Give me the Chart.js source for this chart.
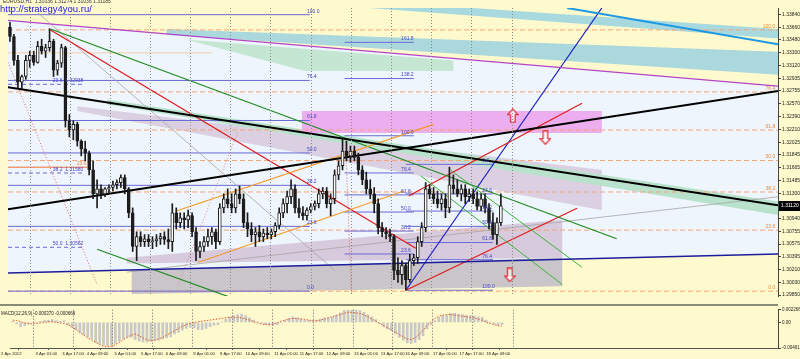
<!DOCTYPE html>
<html>
<head>
<meta charset="utf-8">
<script src="https://cdn.jsdelivr.net/npm/chart.js@4.4.1/dist/chart.umd.min.js"></script>
<style>
  html, body { margin: 0; padding: 0; background: #fffacd; }
  #wrap { position: relative; width: 800px; height: 359px; overflow: hidden; background: #fffacd; }
  #mainChart { position: absolute; left: 0; top: 0; }
  #sep { position: absolute; left: 0; top: 304px; width: 778px; height: 2px; background: #8a8a78; }
  #macdChart { position: absolute; left: 0; top: 306px; }
</style>
</head>
<body>
<div id="wrap">
  <canvas id="mainChart" width="800" height="304"></canvas>
  <div id="sep"></div>
  <canvas id="macdChart" width="800" height="53"></canvas>
</div>
<script>
// EURUSD candles, one per slot
const opens = [
  1.3366, 1.3353, 1.3319, 1.3288, 1.3296, 1.3319, 1.3326, 1.3316, 1.3339, 1.3332,
  1.3337, 1.3346, 1.3305, 1.3315, 1.3337, 1.3233, 1.3220, 1.3228, 1.3204, 1.3193,
  1.3187, 1.3163, 1.3129, 1.3136, 1.3129, 1.3136, 1.3138, 1.3142, 1.3145, 1.3152,
  1.3136, 1.3102, 1.3054, 1.3068, 1.3061, 1.3065, 1.3061, 1.3062, 1.3065, 1.3068,
  1.3064, 1.3061, 1.3102, 1.3088, 1.3095, 1.3092, 1.3098, 1.3075, 1.3047, 1.3054,
  1.3061, 1.3068, 1.3075, 1.3061, 1.3109, 1.3122, 1.3115, 1.3109, 1.3129, 1.3122,
  1.3088, 1.3079, 1.3071, 1.3075, 1.3068, 1.3073, 1.3071, 1.3075, 1.3084, 1.3102,
  1.3115, 1.3125, 1.3136, 1.3109, 1.3102, 1.3098, 1.3106, 1.3111, 1.3115, 1.3129,
  1.3133, 1.3115, 1.3122, 1.3156, 1.3169, 1.3190, 1.3183, 1.3190, 1.3181, 1.3163,
  1.3149, 1.3136, 1.3129, 1.3115, 1.3081, 1.3075, 1.3072, 1.3068, 1.3020, 1.3014,
  1.3027, 1.3007, 1.3034, 1.3038, 1.3061, 1.3081, 1.3136, 1.3129, 1.3122, 1.3115,
  1.3122, 1.3109, 1.3142, 1.3136, 1.3129, 1.3136, 1.3125, 1.3129, 1.3122, 1.3111,
  1.3122, 1.3109, 1.3088, 1.3071, 1.3088
];
const highs = [
  1.3373, 1.3356, 1.3326, 1.3298, 1.3326, 1.3332, 1.3332, 1.3346, 1.3349, 1.3342,
  1.3364, 1.3349, 1.3319, 1.3342, 1.3339, 1.3242, 1.3233, 1.3231, 1.3206, 1.3204,
  1.3190, 1.3176, 1.3149, 1.3142, 1.3138, 1.3142, 1.3147, 1.3149, 1.3156, 1.3156,
  1.3138, 1.3109, 1.3075, 1.3075, 1.3071, 1.3071, 1.3068, 1.3071, 1.3073, 1.3075,
  1.3079, 1.3115, 1.3109, 1.3102, 1.3102, 1.3106, 1.3102, 1.3081, 1.3061, 1.3068,
  1.3079, 1.3081, 1.3079, 1.3115, 1.3129, 1.3136, 1.3129, 1.3136, 1.3140, 1.3129,
  1.3102, 1.3088, 1.3081, 1.3084, 1.3079, 1.3081, 1.3079, 1.3088, 1.3109, 1.3122,
  1.3133, 1.3149, 1.3142, 1.3122, 1.3111, 1.3109, 1.3115, 1.3119, 1.3136, 1.3138,
  1.3138, 1.3129, 1.3163, 1.3176, 1.3208, 1.3204, 1.3197, 1.3197, 1.3187, 1.3169,
  1.3160, 1.3149, 1.3138, 1.3122, 1.3088, 1.3081, 1.3079, 1.3071, 1.3038, 1.3034,
  1.3030, 1.3043, 1.3043, 1.3068, 1.3088, 1.3145, 1.3142, 1.3138, 1.3133, 1.3129,
  1.3129, 1.3167, 1.3156, 1.3149, 1.3142, 1.3142, 1.3136, 1.3136, 1.3132, 1.3129,
  1.3129, 1.3115, 1.3102, 1.3095, 1.3129
];
const lows = [
  1.3346, 1.3312, 1.3280, 1.3278, 1.3292, 1.3309, 1.3312, 1.3315, 1.3328, 1.3323,
  1.3332, 1.3296, 1.3298, 1.3309, 1.3224, 1.3210, 1.3206, 1.3197, 1.3183, 1.3176,
  1.3156, 1.3122, 1.3109, 1.3122, 1.3125, 1.3129, 1.3133, 1.3136, 1.3138, 1.3129,
  1.3095, 1.3047, 1.3034, 1.3054, 1.3054, 1.3054, 1.3051, 1.3054, 1.3057, 1.3057,
  1.3051, 1.3047, 1.3079, 1.3081, 1.3079, 1.3081, 1.3068, 1.3034, 1.3038, 1.3047,
  1.3054, 1.3057, 1.3051, 1.3057, 1.3102, 1.3109, 1.3102, 1.3102, 1.3115, 1.3081,
  1.3068, 1.3061, 1.3054, 1.3061, 1.3061, 1.3065, 1.3065, 1.3068, 1.3079, 1.3095,
  1.3102, 1.3115, 1.3102, 1.3095, 1.3092, 1.3092, 1.3102, 1.3106, 1.3109, 1.3122,
  1.3109, 1.3098, 1.3115, 1.3149, 1.3163, 1.3176, 1.3174, 1.3176, 1.3156, 1.3142,
  1.3129, 1.3122, 1.3102, 1.3072, 1.3068, 1.3065, 1.3061, 1.3007, 1.3003, 1.3000,
  1.2992, 1.3003, 1.3027, 1.3030, 1.3054, 1.3075, 1.3122, 1.3115, 1.3109, 1.3106,
  1.3095, 1.3102, 1.3129, 1.3125, 1.3119, 1.3115, 1.3118, 1.3115, 1.3106, 1.3105,
  1.3102, 1.3079, 1.3064, 1.3057, 1.3084
];
const closes = [
  1.3353, 1.3319, 1.3288, 1.3296, 1.3319, 1.3326, 1.3316, 1.3339, 1.3332, 1.3337,
  1.3346, 1.3305, 1.3315, 1.3337, 1.3233, 1.3220, 1.3228, 1.3204, 1.3193, 1.3187,
  1.3163, 1.3129, 1.3136, 1.3129, 1.3136, 1.3138, 1.3142, 1.3145, 1.3152, 1.3136,
  1.3102, 1.3054, 1.3068, 1.3061, 1.3065, 1.3061, 1.3062, 1.3065, 1.3068, 1.3064,
  1.3061, 1.3102, 1.3088, 1.3095, 1.3092, 1.3098, 1.3075, 1.3047, 1.3054, 1.3061,
  1.3068, 1.3075, 1.3061, 1.3109, 1.3122, 1.3115, 1.3109, 1.3129, 1.3122, 1.3088,
  1.3079, 1.3071, 1.3075, 1.3068, 1.3073, 1.3071, 1.3075, 1.3084, 1.3102, 1.3115,
  1.3125, 1.3136, 1.3109, 1.3102, 1.3098, 1.3106, 1.3111, 1.3115, 1.3129, 1.3133,
  1.3115, 1.3122, 1.3156, 1.3169, 1.3190, 1.3183, 1.3190, 1.3181, 1.3163, 1.3149,
  1.3136, 1.3129, 1.3115, 1.3081, 1.3075, 1.3072, 1.3068, 1.3020, 1.3014, 1.3027,
  1.3007, 1.3034, 1.3038, 1.3061, 1.3081, 1.3136, 1.3129, 1.3122, 1.3115, 1.3122,
  1.3109, 1.3142, 1.3136, 1.3129, 1.3136, 1.3125, 1.3129, 1.3122, 1.3111, 1.3122,
  1.3109, 1.3088, 1.3071, 1.3088, 1.3112
];

// MACD(12,26,9): main (histogram) and signal (dotted)
const macdMain = [
  0.0002, -0.0003, -0.0008, -0.0006, -0.0003, -0.0001, 0.0000, 0.0002, 0.0003, 0.0004,
  0.0005, 0.0003, 0.0002, 0.0003, -0.0004, -0.0009, -0.0013, -0.0018, -0.0022, -0.0026,
  -0.0030, -0.0036, -0.0039, -0.0041, -0.0042, -0.0041, -0.0038, -0.0034, -0.0030, -0.0027,
  -0.0027, -0.0031, -0.0034, -0.0035, -0.0035, -0.0034, -0.0033, -0.0032, -0.0030, -0.0028,
  -0.0026, -0.0021, -0.0018, -0.0014, -0.0011, -0.0009, -0.0010, -0.0013, -0.0013, -0.0011,
  -0.0008, -0.0005, -0.0004, 0.0001, 0.0006, 0.0010, 0.0012, 0.0014, 0.0015, 0.0012,
  0.0008, 0.0004, 0.0001, -0.0002, -0.0004, -0.0005, -0.0005, -0.0004, -0.0001, 0.0003,
  0.0007, 0.0010, 0.0008, 0.0006, 0.0004, 0.0003, 0.0003, 0.0004, 0.0006, 0.0008,
  0.0008, 0.0009, 0.0013, 0.0017, 0.0021, 0.0023, 0.0024, 0.0023, 0.0021, 0.0018,
  0.0014, 0.0010, 0.0005, -0.0002, -0.0008, -0.0012, -0.0015, -0.0021, -0.0027, -0.0032,
  -0.0037, -0.0038, -0.0036, -0.0031, -0.0024, -0.0012, -0.0004, 0.0003, 0.0009, 0.0012,
  0.0013, 0.0016, 0.0016, 0.0015, 0.0014, 0.0013, 0.0012, 0.0011, 0.0010, 0.0009,
  0.0004, 0.0001, -0.0003, -0.0005, -0.0004
];
const macdSignal = [
  0.0004, 0.0003, 0.0001, -0.0001, -0.0002, -0.0003, -0.0002, -0.0001, 0.0000, 0.0001,
  0.0001, 0.0000, -0.0001, -0.0002, -0.0004, -0.0008, -0.0013, -0.0018, -0.0023, -0.0028,
  -0.0032, -0.0036, -0.0040, -0.0043, -0.0044, -0.0043, -0.0040, -0.0036, -0.0031, -0.0027,
  -0.0023, -0.0021, -0.0024, -0.0028, -0.0031, -0.0033, -0.0032, -0.0030, -0.0027, -0.0023,
  -0.0019, -0.0015, -0.0011, -0.0007, -0.0004, -0.0002, 0.0000, 0.0001, 0.0002, 0.0003,
  0.0004, 0.0005, 0.0006, 0.0007, 0.0008, 0.0009, 0.0009, 0.0009, 0.0008, 0.0006,
  0.0004, 0.0001, -0.0001, -0.0003, -0.0004, -0.0004, -0.0003, -0.0001, 0.0002, 0.0004,
  0.0006, 0.0007, 0.0007, 0.0006, 0.0005, 0.0004, 0.0003, 0.0003, 0.0004, 0.0006,
  0.0008, 0.0010, 0.0012, 0.0014, 0.0016, 0.0018, 0.0018, 0.0017, 0.0016, 0.0013,
  0.0010, 0.0006, 0.0002, -0.0002, -0.0006, -0.0010, -0.0014, -0.0018, -0.0022, -0.0026,
  -0.0030, -0.0031, -0.0028, -0.0022, -0.0014, -0.0006, 0.0001, 0.0007, 0.0011, 0.0013,
  0.0014, 0.0014, 0.0013, 0.0012, 0.0011, 0.0010, 0.0009, 0.0008, 0.0006, 0.0004,
  0.0000, -0.0002, -0.0004, -0.0006, -0.0007
];

// axes
const priceTicks = [1.33840, 1.33660, 1.33480, 1.33300, 1.33120, 1.32935, 1.32755, 1.32570,
  1.32390, 1.32210, 1.32025, 1.31845, 1.31665, 1.31485, 1.31300, 1.31120, 1.30940, 1.30755,
  1.30575, 1.30395, 1.30210, 1.30030, 1.29850];
const macdTicks = [0.002266, 0, -0.00461];
const macdTickLabels = ['0.002266', '0.00', '-0.00461'];
const timeTickPos = [-3, 5.75, 12.5, 18.75, 25.75, 32.5, 38.75, 45.75, 52.5, 59, 66.25,
  72.75, 79.5, 86.5, 93.25, 99.5, 106.5, 113.25, 120];
const timeTickLabels = ['2 Apr 2012', '3 Apr 01:00', '3 Apr 17:00', '4 Apr 09:00', '5 Apr 01:00',
  '5 Apr 17:00', '6 Apr 09:00', '9 Apr 01:00', '9 Apr 17:00', '10 Apr 09:00', '11 Apr 01:00',
  '11 Apr 17:00', '12 Apr 09:00', '13 Apr 01:00', '13 Apr 17:00', '16 Apr 09:00', '17 Apr 01:00',
  '17 Apr 17:00', '18 Apr 09:00'];
const dayGrid = [5, 15.25, 25.25, 35.25, 45.5, 55.5, 65.75, 76, 86.25, 96.25, 106.25, 116.5, 126.75];

// fibonacci levels
const fibPct = ['100.0', '76.4', '61.8', '50.0', '38.2', '23.6', '0.0'];
const fibMain = [1.33623, 1.32741, 1.32198, 1.31764, 1.31316, 1.30773, 1.29905];
const fibLeft = [1.33840, 1.32904, 1.32334, 1.31872, 1.31411, 1.30827, 1.29905];
const fibMidNames = ['161.8', '138.2', '100.0', '76.4', '61.8', '50.0', '38.2', '23.6'];
const fibMid = [1.33446, 1.32931, 1.32117, 1.31587, 1.31275, 1.31031, 1.30760, 1.30434];
const fibRightNames = ['0.0', '23.6', '38.2', '50.0', '61.8', '76.4', '100.0'];
const fibRight = [1.31710, 1.31289, 1.31045, 1.30827, 1.30597, 1.30353, 1.29918];
const noteLevels = [1.32849, 1.31587, 1.30529];
const noteTexts = ['23.6  1.32938', '38.2  1.31580', '50.0  1.30562'];
const salmonLevel = 1.31669;

// drawn objects, [slot, price]
const blackDown = [[-0.5, 1.32809], [194, 1.31126]];
const blackUp = [[-0.5, 1.31072], [194, 1.32754]];
const magentaLine = [[-0.5, 1.33759], [194, 1.32822]];
const cyanLine = [[140.75, 1.33935], [194, 1.33419]];
const navyLine = [[-0.5, 1.30163], [194, 1.30434]];
const blueSteep = [[100, 1.29918], [149.5, 1.33935]];
const redDown = [[10.25, 1.33623], [102.5, 1.30515]];
const redUpA = [[100.75, 1.31262], [144.5, 1.32578]];
const redUpB = [[100, 1.29918], [143.25, 1.31085]];
const greenLong = [[10.25, 1.33636], [153.25, 1.30651]];
const greenShort = [[22, 1.30502], [56.5, 1.29800]];
const greenA = [[103.75, 1.31547], [139.5, 1.30000]];
const greenB = [[111.25, 1.31629], [144.5, 1.30244]];
const orangeUp = [[42, 1.31045], [107, 1.32279]];
const orangeLow = [[47.5, 1.30312], [99.5, 1.31330]];
const grayDesc = [[7, 1.33867], [82, 1.30203]];
const grayAsc = [[29.5, 1.30176], [194, 1.31248]];
const redDotA = [[-0.5, 1.33162], [22, 1.29999]];
const redDotB = [[42.5, 1.29999], [57.5, 1.32171]];
const redDotC = [[84.75, 1.32035], [86.25, 1.29864]];
const paleLine = [[-0.5, 1.33297], [51, 1.33297]];

const channelZone = [[-0.5, 1.33759], [194, 1.32822], [194, 1.30434], [-0.5, 1.30163]];
const tealZoneA = [[90.75, 1.33935], [117, 1.33935], [194, 1.33636], [194, 1.33501]];
const tealZoneB = [[39.5, 1.33636], [194, 1.33311], [194, 1.32985], [39.5, 1.33555]];
const mintZoneTop = [[44.5, 1.33487], [112, 1.33189], [112, 1.33039], [74.5, 1.33039]];
const mintZoneBand = [[24.5, 1.32632], [194, 1.31180], [194, 1.30990], [24.5, 1.32564]];
const lavenderZoneA = [[17, 1.32537], [149.5, 1.31628], [149.5, 1.31058], [17, 1.32469]];
const lavenderZoneB = [[29.5, 1.30380], [139.5, 1.30922], [139.5, 1.30380], [29.5, 1.30298]];
const grayZone = [[30.75, 1.30203], [139.5, 1.30380], [139.5, 1.29973], [30.75, 1.29864]];
const pinkZone = [[73.75, 1.32469], [149.5, 1.32469], [149.5, 1.32157], [73.75, 1.32157]];

const arrowsUp = [[127, 1.32402]];
const arrowsDown = [[135.25, 1.32090], [126.25, 1.30135]];

const FONT = '"Liberation Sans", Arial, sans-serif';

const pts = arr => arr.map(p => ({ x: p[0], y: p[1] }));

function trend(arr, color, width, dash, order) {
  return {
    type: 'line', data: pts(arr), borderColor: color, borderWidth: width,
    borderDash: dash || [], pointRadius: 0, fill: false, tension: 0, order: order || 10
  };
}

function zone(arr, color, order) {
  return {
    type: 'line', data: pts(arr), borderWidth: 0, borderColor: 'rgba(0,0,0,0)',
    backgroundColor: color, fill: 'shape', pointRadius: 0, order: order
  };
}

function levels(vals, x0, x1, color, dash, order) {
  return vals.map(v => trend([[x0, v], [x1, v]], color, 1, dash, order));
}

function arrowIcon(up) {
  const c = document.createElement('canvas');
  c.width = 12; c.height = 15;
  const g = c.getContext('2d');
  if (!up) { g.translate(0, 15); g.scale(1, -1); }
  g.beginPath();
  g.moveTo(6, 0.8); g.lineTo(11.2, 6.5); g.lineTo(8.3, 6.5); g.lineTo(8.3, 14.2);
  g.lineTo(3.7, 14.2); g.lineTo(3.7, 6.5); g.lineTo(0.8, 6.5); g.closePath();
  g.fillStyle = 'rgba(255,255,255,0.75)'; g.fill();
  g.strokeStyle = '#e3262b'; g.lineWidth = 1.2; g.stroke();
  return c;
}

const mainDecor = {
  id: 'mainDecor',
  afterDatasetsDraw(chart) {
    const { ctx, chartArea: a, scales: { x, y } } = chart;
    ctx.save();
    ctx.beginPath();
    ctx.rect(a.left, a.top, a.right - a.left, a.bottom - a.top);
    ctx.clip();
    ctx.strokeStyle = '#8a8a8a';
    ctx.lineWidth = 1;
    ctx.setLineDash([1, 2]);
    dayGrid.forEach(d => {
      const px = Math.round(x.getPixelForValue(d)) + 0.5;
      ctx.beginPath(); ctx.moveTo(px, a.top); ctx.lineTo(px, a.bottom); ctx.stroke();
    });
    ctx.setLineDash([]);

    ctx.font = '5px ' + FONT;
    ctx.textBaseline = 'bottom';
    ctx.fillStyle = '#f0883a';
    ctx.textAlign = 'right';
    fibMain.forEach((v, i) => ctx.fillText(fibPct[i], x.getPixelForValue(193.3), y.getPixelForValue(v) - 1));
    ctx.fillText('23.6', x.getPixelForValue(19.3), y.getPixelForValue(salmonLevel) - 1);

    ctx.fillStyle = '#4444c4';
    ctx.textAlign = 'left';
    fibLeft.forEach((v, i) => ctx.fillText(fibPct[i], x.getPixelForValue(75), y.getPixelForValue(v) - 1));
    fibMid.forEach((v, i) => ctx.fillText(fibMidNames[i], x.getPixelForValue(98.8), y.getPixelForValue(v) - 1));
    fibRight.forEach((v, i) => ctx.fillText(fibRightNames[i], x.getPixelForValue(119.3), y.getPixelForValue(v) - 1));
    noteLevels.forEach((v, i) => ctx.fillText(noteTexts[i], x.getPixelForValue(10.8), y.getPixelForValue(v) - 1));
    ctx.restore();
  },
  afterDraw(chart) {
    const { ctx, chartArea: a, scales: { y } } = chart;
    ctx.save();
    ctx.font = '5px ' + FONT;
    ctx.fillStyle = '#333';
    ctx.textBaseline = 'alphabetic';
    ctx.textAlign = 'left';
    ctx.fillText('EURUSD,H1  1.31036 1.31274 1.31036 1.31185', 3, 2.5);
    ctx.font = '9.5px ' + FONT;
    ctx.fillStyle = '#1818e0';
    ctx.fillText('http://strategy4you.ru/', 0, 12);
    const last = closes[closes.length - 1];
    const py = Math.round(y.getPixelForValue(last));
    ctx.fillStyle = '#000';
    ctx.fillRect(a.right + 1, py - 5, 21, 10);
    ctx.font = '5px ' + FONT;
    ctx.fillStyle = '#fff';
    ctx.textBaseline = 'middle';
    ctx.fillText(last.toFixed(5), a.right + 3, py);
    ctx.restore();
  }
};

const macdDecor = {
  id: 'macdDecor',
  afterDatasetsDraw(chart) {
    const { ctx, chartArea: a, scales: { x } } = chart;
    ctx.save();
    ctx.strokeStyle = '#6a6a6a';
    ctx.lineWidth = 1;
    ctx.setLineDash([1, 2]);
    dayGrid.forEach(d => {
      const px = Math.round(x.getPixelForValue(d)) + 0.5;
      ctx.beginPath(); ctx.moveTo(px, a.top); ctx.lineTo(px, a.bottom); ctx.stroke();
    });
    ctx.setLineDash([]);
    ctx.font = '4.5px ' + FONT;
    ctx.fillStyle = '#222';
    ctx.textBaseline = 'top';
    ctx.textAlign = 'left';
    ctx.fillText('MACD(12,26,9) -0.000370 -0.000666', 1, a.top + 2);
    ctx.restore();
  }
};

const mainSets = [
  zone(channelZone, '#eef5fc', 40),
  zone(tealZoneA, '#a8d9df', 37),
  zone(tealZoneB, '#abd8dd', 36),
  zone(mintZoneTop, '#c6e6d4', 35),
  zone(lavenderZoneA, '#dad0e2', 34),
  zone(mintZoneBand, '#b9e2cd', 33),
  zone(lavenderZoneB, '#d7cadd', 32),
  zone(grayZone, '#c9c5c9', 31),
  zone(pinkZone, '#ecaeee', 30),
  ...levels(fibMain, -0.5, 194, '#f3a57a', [5, 3], 14),
  ...levels(fibLeft, -0.5, 75.75, '#6a6ad6', [], 13),
  ...levels(fibMid, 84.5, 102, '#6a6ad6', [], 13),
  ...levels(fibRight, 100, 122, '#6a6ad6', [], 13),
  ...levels(noteLevels, -0.5, 18.25, '#6a6ad6', [4, 3], 13),
  trend([[-0.5, salmonLevel], [19.5, salmonLevel]], '#f29a74', 1.5, [], 13),
  trend(paleLine, '#f5cfa6', 1, [], 13),
  trend(grayDesc, '#a4a4a4', 0.8, [], 12),
  trend(grayAsc, '#a4a4a4', 0.8, [], 12),
  trend(redDotA, '#e36a6a', 1, [1, 2], 12),
  trend(redDotB, '#e88a8a', 1, [1, 2], 12),
  trend(redDotC, '#e36a6a', 1, [1, 2], 12),
  trend(magentaLine, '#b444c8', 1.3),
  trend(cyanLine, '#1d98e2', 2),
  trend(navyLine, '#1c1c9c', 1.5),
  trend(orangeUp, '#f59a2a', 1.2),
  trend(orangeLow, '#f59a2a', 1.2),
  trend(greenLong, '#1f8a1f', 1.2),
  trend(greenShort, '#1f8a1f', 1.2),
  trend(greenA, '#3cb43c', 1),
  trend(greenB, '#3cb43c', 1),
  trend(redDown, '#e01a1a', 1.2),
  trend(redUpA, '#e01a1a', 1.2),
  trend(redUpB, '#e01a1a', 1.2),
  trend(blueSteep, '#1e1ec4', 1.2),
  trend(blackDown, '#000000', 2, [], 9),
  trend(blackUp, '#000000', 2, [], 9),
  {
    type: 'bar', grouped: false, order: 2, barThickness: 1,
    data: lows.map((l, i) => ({ x: i, y: [l, highs[i]] })),
    backgroundColor: '#1c1c1c'
  },
  {
    type: 'bar', grouped: false, order: 1, barThickness: 3, borderWidth: 1, borderSkipped: false,
    data: opens.map((o, i) => ({ x: i, y: [o, closes[i]] })),
    backgroundColor: opens.map((o, i) => closes[i] >= o ? '#ffffff' : '#1c1c1c'),
    borderColor: '#1c1c1c'
  },
  {
    type: 'line', showLine: false, order: 0, pointRadius: 7,
    data: pts(arrowsUp), pointStyle: arrowIcon(true)
  },
  {
    type: 'line', showLine: false, order: 0, pointRadius: 7,
    data: pts(arrowsDown), pointStyle: arrowIcon(false)
  }
];

new Chart(document.getElementById('mainChart'), {
  type: 'bar',
  data: { datasets: mainSets },
  options: {
    responsive: false,
    animation: false,
    devicePixelRatio: 1,
    layout: { padding: { top: 0, right: 0, bottom: 2, left: 0 } },
    plugins: { legend: { display: false }, tooltip: { enabled: false } },
    scales: {
      x: { type: 'linear', min: -0.5, max: 194, offset: false, display: false },
      y: {
        position: 'right',
        min: 1.29836,
        max: 1.33935,
        beginAtZero: false,
        afterBuildTicks: s => { s.ticks = priceTicks.map(v => ({ value: v })); },
        afterFit: s => { s.width = 22; },
        ticks: {
          autoSkip: false, padding: 1, color: '#222',
          font: { size: 5, family: FONT },
          callback: v => v.toFixed(5)
        },
        grid: { drawOnChartArea: false, tickLength: 3, color: '#444' },
        border: { color: '#444' }
      }
    }
  },
  plugins: [mainDecor]
});

new Chart(document.getElementById('macdChart'), {
  type: 'bar',
  data: {
    datasets: [
      {
        type: 'line', order: 1, data: macdSignal.map((v, i) => ({ x: i, y: v })),
        borderColor: '#e0562e', borderWidth: 1, borderDash: [1.5, 1.5], pointRadius: 0, fill: false
      },
      {
        type: 'bar', order: 2, grouped: false, barThickness: 2,
        data: macdMain.map((v, i) => ({ x: i, y: v })),
        backgroundColor: '#c8c8c8'
      }
    ]
  },
  options: {
    responsive: false,
    animation: false,
    devicePixelRatio: 1,
    layout: { padding: { top: 1, right: 0, bottom: 0, left: 0 } },
    plugins: { legend: { display: false }, tooltip: { enabled: false } },
    scales: {
      x: {
        type: 'linear', min: -0.5, max: 194, offset: false,
        afterBuildTicks: s => { s.ticks = timeTickPos.map(v => ({ value: v })); },
        afterFit: s => { s.height = 11; },
        ticks: {
          autoSkip: false, maxRotation: 0, minRotation: 0, align: 'start', padding: 1,
          color: '#222', font: { size: 4.2, family: FONT },
          callback: (v, i) => timeTickLabels[i]
        },
        grid: { drawOnChartArea: false, tickLength: 2, color: '#555' },
        border: { color: '#555' }
      },
      y: {
        position: 'right',
        min: macdTicks[2],
        max: macdTicks[0],
        beginAtZero: false,
        afterBuildTicks: s => { s.ticks = macdTicks.map(v => ({ value: v })); },
        afterFit: s => { s.width = 22; },
        ticks: {
          autoSkip: false, padding: 1, color: '#222',
          font: { size: 4.5, family: FONT },
          callback: (v, i) => macdTickLabels[i]
        },
        grid: { drawOnChartArea: false, tickLength: 3, color: '#444' },
        border: { color: '#444' }
      }
    }
  },
  plugins: [macdDecor]
});
</script>
</body>
</html>
